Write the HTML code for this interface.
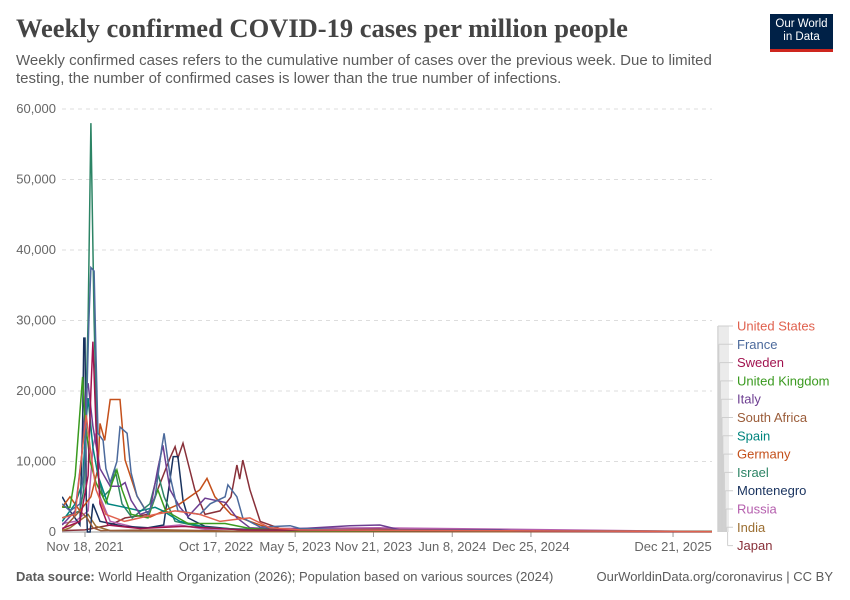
<!DOCTYPE html>
<html><head><meta charset="utf-8"><style>
body{margin:0;background:#fff;width:850px;height:600px;overflow:hidden;font-family:"Liberation Sans",sans-serif}
.t{position:absolute}
</style></head><body>
<div class="t" style="left:16px;top:13px;font-family:'Liberation Serif',serif;font-weight:bold;font-size:26.5px;color:#444">Weekly confirmed COVID-19 cases per million people</div>
<div class="t" style="left:16px;top:52px;font-size:15px;line-height:18px;color:#5b5b5b;width:745px">Weekly confirmed cases refers to the cumulative number of cases over the previous week. Due to limited testing, the number of confirmed cases is lower than the true number of infections.</div>
<div class="t" style="left:770px;top:14px;width:63px;height:31px;background:#002147;border-bottom:3px solid #ce261e;color:#fff;font-size:11.5px;line-height:13px;text-align:center;padding-top:4px">Our World<br>in Data</div>
<svg class="t" style="left:0;top:0" width="850" height="600" id="chart"></svg>
<div class="t" style="left:16px;top:569px;font-size:13px;color:#5b5b5b"><b>Data source:</b> World Health Organization (2026); Population based on various sources (2024)</div>
<div class="t" style="right:17px;top:569px;font-size:13px;color:#5b5b5b">OurWorldinData.org/coronavirus | CC BY</div>
<script>
// days since 2021-11-18
const yTicks=[0,10000,20000,30000,40000,50000,60000];
const xTickDays=[0,333,534,733,933,1133,1494];
const xTickLabels=["Nov 18, 2021","Oct 17, 2022","May 5, 2023","Nov 21, 2023","Jun 8, 2024","Dec 25, 2024","Dec 21, 2025"];
const countries=["United States","France","Sweden","United Kingdom","Italy","South Africa","Spain","Germany","Israel","Montenegro","Russia","India","Japan"];
const colors=["#e0614e","#4c6a9c","#a1134f","#3a9a1f","#6d3e91","#9a5c39","#00847e","#c4501b","#2c8465","#18325e","#b55fae","#9b6e31","#883039"];
const usDays=[-58,-25,-6,3,13,28,53,100,178,229,292,343,386,419,470,546,1593];
const usCases=[2000,2500,12000,16600,12000,6000,2500,1500,2500,3000,2500,1500,1800,2000,600,300,50];
const frDays=[-58,-38,-13,0,5,10,15,23,28,33,46,53,64,81,89,107,117,132,160,178,195,201,216,236,292,318,356,363,386,401,445,521,546,673,1593];
const frCases=[4000,3000,4000,10000,20000,30000,37500,37000,25000,14000,13000,9000,7000,10000,14900,14000,8400,5100,2500,5000,12000,14000,8000,3000,2500,4000,5000,6700,5000,2000,700,900,500,300,50];
const seDays=[-58,-13,8,15,20,28,38,58,140,250,400,1593];
const seCases=[500,1500,8000,20000,27000,15000,4000,1000,500,800,300,50];
const ukDays=[-58,-38,-25,-13,-6,0,13,28,53,69,81,94,117,160,185,205,262,356,419,521,1593];
const ukCases=[3500,3500,8000,17000,22000,16000,10000,7000,4100,7000,8800,6000,2500,2000,6000,3000,1200,1200,500,200,100];
const itDays=[-58,-25,-6,3,8,20,38,64,89,102,117,140,165,185,198,216,241,262,305,356,386,419,521,673,749,800,1054,1100,1593];
const itCases=[1000,3000,12000,20000,21100,15000,9000,6500,6500,7000,4500,2500,3000,9000,12300,6000,3500,2200,4800,4200,2000,600,400,900,1000,300,300,100,50];
const zaDays=[-58,-38,-13,5,20,40,200,400,1593];
const zaCases=[300,1500,3000,2000,600,200,300,100,20];
const esDays=[-58,-25,-6,3,8,20,33,58,100,140,178,198,241,305,400,1593];
const esCases=[1500,4000,7000,16000,19000,12000,8000,4000,3500,3000,3500,3000,1500,700,300,30];
const deDays=[-58,-38,-13,15,33,38,50,64,89,102,132,165,200,241,292,310,330,371,419,470,546,1593];
const deCases=[3500,5000,3000,5000,9000,15400,13000,18800,18800,10200,5100,2100,3000,4000,6000,7600,5000,2500,1500,500,200,30];
const ilDays=[-58,-13,-3,8,15,23,33,46,64,76,94,120,165,185,201,229,305,400,500,1593];
const ilCases=[2000,3000,6000,30000,58000,30000,8000,5000,6000,9000,4000,2000,4000,8400,5000,1500,600,400,200,50];
const meDays=[-58,-38,-13,-6,-3,0,3,6,13,20,38,100,160,200,224,236,249,262,305,400,1593];
const meCases=[5000,3000,1000,15000,27500,27500,5000,0,0,4000,1500,800,600,1000,10700,10700,4500,2000,800,300,30];
const ruDays=[-58,-25,8,20,28,38,64,140,241,305,749,1593];
const ruCases=[1200,1500,3000,12000,14000,5000,1500,500,1000,400,600,50];
const inDays=[-58,-38,8,28,64,400,1593];
const inCases=[200,600,2500,800,200,50,10];
const jpDays=[-58,0,64,102,160,216,229,236,249,279,305,343,371,386,393,401,419,445,495,1593];
const jpCases=[200,300,1000,2000,2500,10500,12100,10500,12600,6000,2500,3000,5000,9500,7500,10200,6000,1500,500,50];
const seriesDays=[usDays,frDays,seDays,ukDays,itDays,zaDays,esDays,deDays,ilDays,meDays,ruDays,inDays,jpDays];
const seriesCases=[usCases,frCases,seCases,ukCases,itCases,zaCases,esCases,deCases,ilCases,meCases,ruCases,inCases,jpCases];

const NS="http://www.w3.org/2000/svg",svg=document.getElementById('chart');
const X0=62,X1=712,Y0=532,Y1=109;
const xS=d=>85+d*0.3936;
const yS=v=>Y0-(v/60000)*(Y0-Y1);
function mk(t,a){const e=document.createElementNS(NS,t);for(const k in a)e.setAttribute(k,a[k]);svg.appendChild(e);return e;}
yTicks.forEach(v=>{
  if(v>0){const g=mk('line',{x1:X0,x2:X1,y1:yS(v),y2:yS(v),stroke:'#ddd','stroke-dasharray':'4,4'});
  
  }
  const t=mk('text',{x:56,y:yS(v)+4,'text-anchor':'end','font-size':'13','fill':'#666','font-family':'Liberation Sans'});
  t.textContent=v.toLocaleString('en-US');
  
  
});
const ax=mk('line',{x1:X0,x2:X1,y1:Y0,y2:Y0,stroke:'#999'});


xTickDays.forEach((d,i)=>{
  mk('line',{x1:xS(d),x2:xS(d),y1:Y0,y2:Y0+5,stroke:'#999'});
  const t=mk('text',{x:xS(d),y:551,'text-anchor':'middle','font-size':'13','fill':'#666','font-family':'Liberation Sans'});
  t.textContent=xTickLabels[i];
  
  
});
const clip=mk('clipPath',{id:'pc'});
const cr=document.createElementNS(NS,'rect');cr.setAttribute('x',X0);cr.setAttribute('y',0);cr.setAttribute('width',X1-X0);cr.setAttribute('height',Y0+1);clip.appendChild(cr);
for(let i=countries.length-1;i>=0;i--){
  const pts=seriesDays[i].map((d,j)=>xS(d).toFixed(1)+','+yS(seriesCases[i][j]).toFixed(1)).join(' ');
  const p=mk('polyline',{points:pts,fill:'none',stroke:colors[i],'stroke-width':'1.5','clip-path':'url(#pc)'});
  
  
}
// legend bundle
mk('rect',{x:717,y:326,width:12,height:206,fill:'#ebebeb'});
countries.forEach((c,i)=>{
  const ly=326+i*18.3;
  mk('path',{d:`M${718+i*0.8},${ly} L${718+i*0.8},532 M${718+i*0.8},${ly} H733`,stroke:'#cfcfcf',fill:'none'});
  const t=mk('text',{x:737,y:ly+4.5,'font-size':'13','fill':colors[i],'font-family':'Liberation Sans'});
  t.textContent=c;
  
  
});
</script>
</body></html>
